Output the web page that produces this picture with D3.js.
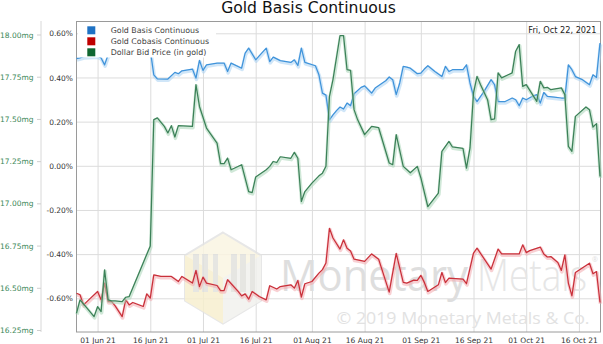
<!DOCTYPE html>
<html>
<head>
<meta charset="utf-8">
<script src="https://cdn.jsdelivr.net/npm/d3@7"></script>
<style>
  body { margin: 0; background: #fff; }
  svg { display: block; }
  text { font-family: "DejaVu Sans", sans-serif; }
</style>
</head>
<body>
<svg id="chart" width="603" height="344"></svg>
<script>
// ---- data -------------------------------------------------------------
const basisDates = ["2021-05-26","2021-05-27","2021-05-28","2021-06-01","2021-06-02","2021-06-03","2021-06-04","2021-06-07","2021-06-09","2021-06-11","2021-06-14","2021-06-16","2021-06-17","2021-06-18","2021-06-21","2021-06-23","2021-06-24","2021-06-25","2021-06-28","2021-06-29","2021-06-30","2021-07-01","2021-07-02","2021-07-05","2021-07-07","2021-07-08","2021-07-09","2021-07-12","2021-07-13","2021-07-14","2021-07-16","2021-07-17","2021-07-19","2021-07-20","2021-07-21","2021-07-23","2021-07-26","2021-07-27","2021-07-28","2021-07-29","2021-07-30","2021-08-02","2021-08-03","2021-08-04","2021-08-05","2021-08-06","2021-08-07","2021-08-08","2021-08-09","2021-08-10","2021-08-11","2021-08-12","2021-08-13","2021-08-15","2021-08-16","2021-08-18","2021-08-19","2021-08-22","2021-08-23","2021-08-24","2021-08-25","2021-08-26","2021-08-27","2021-08-28","2021-08-29","2021-08-31","2021-09-01","2021-09-02","2021-09-03","2021-09-05","2021-09-07","2021-09-08","2021-09-09","2021-09-10","2021-09-13","2021-09-14","2021-09-15","2021-09-16","2021-09-17","2021-09-19","2021-09-21","2021-09-22","2021-09-23","2021-09-25","2021-09-27","2021-09-28","2021-09-29","2021-09-30","2021-10-01","2021-10-03","2021-10-04","2021-10-05","2021-10-06","2021-10-07","2021-10-09","2021-10-11","2021-10-12","2021-10-13","2021-10-14","2021-10-15","2021-10-17","2021-10-19","2021-10-20","2021-10-21","2021-10-22"];
const basisValues = [0.485,0.489,0.494,0.498,0.488,0.457,0.503,0.51,0.52,0.51,0.52,0.525,0.412,0.394,0.393,0.423,0.417,0.430,0.438,0.397,0.477,0.432,0.457,0.465,0.465,0.427,0.465,0.442,0.510,0.533,0.480,0.498,0.533,0.472,0.492,0.476,0.468,0.480,0.454,0.533,0.468,0.453,0.412,0.329,0.320,0.208,0.231,0.250,0.266,0.257,0.284,0.272,0.326,0.355,0.362,0.329,0.352,0.385,0.402,0.390,0.322,0.375,0.450,0.447,0.442,0.417,0.420,0.438,0.453,0.427,0.404,0.450,0.427,0.435,0.435,0.457,0.375,0.314,0.291,0.337,0.390,0.367,0.291,0.291,0.307,0.299,0.272,0.307,0.299,0.317,0.322,0.284,0.332,0.314,0.311,0.307,0.307,0.457,0.435,0.404,0.390,0.367,0.412,0.400,0.556];

const cobasisDates = ["2021-05-26","2021-05-27","2021-05-28","2021-05-30","2021-06-01","2021-06-02","2021-06-03","2021-06-04","2021-06-05","2021-06-06","2021-06-08","2021-06-09","2021-06-10","2021-06-11","2021-06-14","2021-06-15","2021-06-16","2021-06-17","2021-06-19","2021-06-22","2021-06-24","2021-06-25","2021-06-28","2021-06-29","2021-06-30","2021-07-01","2021-07-02","2021-07-05","2021-07-06","2021-07-07","2021-07-08","2021-07-11","2021-07-12","2021-07-13","2021-07-14","2021-07-15","2021-07-17","2021-07-19","2021-07-20","2021-07-22","2021-07-23","2021-07-26","2021-07-27","2021-07-28","2021-07-29","2021-07-30","2021-08-01","2021-08-03","2021-08-04","2021-08-05","2021-08-06","2021-08-07","2021-08-09","2021-08-10","2021-08-11","2021-08-12","2021-08-13","2021-08-15","2021-08-16","2021-08-18","2021-08-20","2021-08-23","2021-08-25","2021-08-27","2021-08-28","2021-08-30","2021-08-31","2021-09-01","2021-09-02","2021-09-03","2021-09-06","2021-09-07","2021-09-08","2021-09-09","2021-09-13","2021-09-14","2021-09-16","2021-09-17","2021-09-21","2021-09-23","2021-09-24","2021-09-29","2021-09-30","2021-10-01","2021-10-02","2021-10-05","2021-10-06","2021-10-07","2021-10-08","2021-10-10","2021-10-11","2021-10-12","2021-10-13","2021-10-14","2021-10-15","2021-10-19","2021-10-20","2021-10-21","2021-10-22"];
const cobasisValues = [-0.577,-0.584,-0.630,-0.599,-0.569,-0.607,-0.531,-0.615,-0.615,-0.634,-0.683,-0.607,-0.630,-0.619,-0.637,-0.580,-0.599,-0.494,-0.501,-0.501,-0.524,-0.501,-0.531,-0.474,-0.547,-0.504,-0.531,-0.542,-0.565,-0.565,-0.516,-0.569,-0.589,-0.580,-0.604,-0.569,-0.592,-0.607,-0.543,-0.558,-0.547,-0.539,-0.554,-0.519,-0.595,-0.534,-0.524,-0.486,-0.470,-0.440,-0.283,-0.327,-0.377,-0.335,-0.373,-0.386,-0.423,-0.429,-0.433,-0.399,-0.423,-0.572,-0.397,-0.528,-0.531,-0.518,-0.519,-0.496,-0.528,-0.569,-0.539,-0.483,-0.529,-0.509,-0.513,-0.534,-0.395,-0.373,-0.468,-0.377,-0.399,-0.399,-0.358,-0.393,-0.384,-0.368,-0.399,-0.413,-0.411,-0.438,-0.474,-0.403,-0.531,-0.589,-0.483,-0.441,-0.489,-0.479,-0.619];

const dollarDates = ["2021-05-26","2021-05-27","2021-05-29","2021-05-31","2021-06-01","2021-06-02","2021-06-03","2021-06-04","2021-06-05","2021-06-06","2021-06-08","2021-06-09","2021-06-10","2021-06-16","2021-06-17","2021-06-18","2021-06-20","2021-06-21","2021-06-22","2021-06-23","2021-06-24","2021-06-28","2021-06-29","2021-06-30","2021-07-02","2021-07-05","2021-07-06","2021-07-07","2021-07-08","2021-07-09","2021-07-12","2021-07-14","2021-07-15","2021-07-16","2021-07-19","2021-07-20","2021-07-21","2021-07-22","2021-07-23","2021-07-26","2021-07-27","2021-07-28","2021-07-29","2021-07-30","2021-08-01","2021-08-03","2021-08-04","2021-08-05","2021-08-06","2021-08-07","2021-08-09","2021-08-10","2021-08-11","2021-08-12","2021-08-13","2021-08-14","2021-08-16","2021-08-18","2021-08-20","2021-08-23","2021-08-24","2021-08-25","2021-08-27","2021-08-29","2021-08-31","2021-09-01","2021-09-03","2021-09-06","2021-09-07","2021-09-09","2021-09-10","2021-09-13","2021-09-14","2021-09-15","2021-09-16","2021-09-17","2021-09-18","2021-09-20","2021-09-21","2021-09-22","2021-09-23","2021-09-24","2021-09-27","2021-09-28","2021-09-29","2021-09-30","2021-10-01","2021-10-04","2021-10-05","2021-10-06","2021-10-07","2021-10-08","2021-10-11","2021-10-12","2021-10-13","2021-10-14","2021-10-15","2021-10-18","2021-10-19","2021-10-20","2021-10-21","2021-10-22"];
const dollarValues = [16.349,16.428,16.379,16.329,16.388,16.359,16.606,16.428,16.422,16.422,16.418,16.444,16.448,16.748,17.496,17.506,17.456,17.417,17.460,17.393,17.460,17.456,17.703,17.574,17.446,17.357,17.235,17.235,17.268,17.199,17.229,17.070,17.064,17.156,17.199,17.219,17.248,17.242,17.276,17.267,17.302,17.267,17.011,17.070,17.120,17.163,17.179,17.220,17.634,17.733,17.994,17.994,17.792,17.788,17.555,17.496,17.407,17.456,17.448,17.239,17.229,17.407,17.219,17.181,17.219,17.152,16.980,17.061,17.308,17.367,17.334,17.325,17.209,17.328,17.654,17.752,17.703,17.614,17.496,17.500,17.773,17.743,17.773,17.901,17.940,17.693,17.703,17.604,17.723,17.684,17.687,17.673,17.684,17.644,17.337,17.308,17.515,17.571,17.555,17.452,17.472,17.159];

const seriesNames = ["Gold Basis Continuous", "Gold Cobasis Continuous", "Dollar Bid Price (in gold)"];
const pctTicks = [0.6, 0.4, 0.2, 0, -0.2, -0.4, -0.6];
const mgTicks = [18.0, 17.75, 17.5, 17.25, 17.0, 16.75, 16.5, 16.25];
const dateTicks = ["2021-06-01","2021-06-16","2021-07-01","2021-07-16","2021-08-01","2021-08-16","2021-09-01","2021-09-16","2021-10-01","2021-10-16"];
const dateRange = ["2021-05-26", "2021-10-22"];

// ---- layout -------------------------------------------------------------
const plot = { left: 76.5, right: 600.5, top: 21, bottom: 332 };
const parse = d3.timeParse("%Y-%m-%d");
const svg = d3.select("#chart");

const x = d3.scaleTime()
  .domain(dateRange.map(parse))
  .range([plot.left, plot.right - 0.5]);
const yPct = d3.scaleLinear().domain([-0.6, 0.6]).range([298.3, 33.3]);
const yMg = d3.scaleLinear().domain([16.25, 18.0]).range([330, 34.5]);

// title
svg.append("text")
  .attr("x", 308.5).attr("y", 12.5)
  .attr("text-anchor", "middle")
  .style("font-size", "15.6px")
  .attr("fill", "#111")
  .text("Gold Basis Continuous");

// grid lines
const gridY = svg.append("g")
  .attr("transform", `translate(${plot.left},0)`)
  .call(d3.axisLeft(yPct).tickValues(pctTicks).tickSize(-(plot.right - plot.left)).tickFormat(""));
gridY.select(".domain").remove();
gridY.selectAll("line").attr("stroke", "#dcdcdc").attr("stroke-width", 1);

const gridX = svg.append("g")
  .attr("transform", `translate(0,${plot.bottom})`)
  .call(d3.axisBottom(x).tickValues(dateTicks.map(parse)).tickSize(-(plot.bottom - plot.top)).tickFormat(""));
gridX.select(".domain").remove();
gridX.selectAll("line").attr("stroke", "#dcdcdc").attr("stroke-width", 1);

// watermark: logo hexagon
const wm = svg.append("g").attr("opacity", 0.85);
const hc = { x: 223, y: 278, w: 38, h: 45.5 };
const hex = [[hc.x, hc.y - hc.h], [hc.x + hc.w, hc.y - hc.h / 2], [hc.x + hc.w, hc.y + hc.h / 2],
             [hc.x, hc.y + hc.h], [hc.x - hc.w, hc.y + hc.h / 2], [hc.x - hc.w, hc.y - hc.h / 2]];
wm.append("polygon").attr("points", hex.map(p => p.join(",")).join(" "))
  .attr("fill", "#faf5e2").attr("stroke", "#e3e3e3").attr("stroke-width", 2);
wm.append("polygon")
  .attr("points", [[hc.x - hc.w, hc.y - hc.h / 2], [hc.x, hc.y], [hc.x, hc.y + hc.h], [hc.x - hc.w, hc.y + hc.h / 2]].map(p => p.join(",")).join(" "))
  .attr("fill", "#f7efcf");
wm.append("polygon")
  .attr("points", [[hc.x + hc.w, hc.y - hc.h / 2], [hc.x, hc.y], [hc.x, hc.y + hc.h], [hc.x + hc.w, hc.y + hc.h / 2]].map(p => p.join(",")).join(" "))
  .attr("fill", "#f1f1ee");
[[-30, 6], [-21, 6], [-10, 5], [8, 6], [17, 6], [27, 5]].forEach(([dx, w]) => {
  wm.append("rect").attr("x", hc.x + dx).attr("y", hc.y - 24).attr("width", w).attr("height", 38)
    .attr("fill", "#e2e2de");
});

// watermark: name and copyright
svg.append("text").attr("x", 280).attr("y", 290.5)
  .attr("textLength", 188).attr("lengthAdjust", "spacingAndGlyphs")
  .style("font-family", "'Open Sans', sans-serif").style("font-size", "44px")
  .attr("fill", "#dedede").text("Monetary");
svg.append("text").attr("x", 477).attr("y", 290.5)
  .attr("textLength", 110).attr("lengthAdjust", "spacingAndGlyphs")
  .style("font-family", "'Open Sans', sans-serif").style("font-size", "44px").style("font-weight", 300)
  .attr("fill", "#e6e6e6").text("Metals");
svg.append("text").attr("x", 592).attr("y", 262)
  .style("font-family", "'Open Sans', sans-serif").style("font-size", "7px")
  .attr("fill", "#e0e0e0").text("®");
svg.append("text").attr("x", 336.5).attr("y", 323.5)
  .attr("textLength", 253).attr("lengthAdjust", "spacingAndGlyphs")
  .style("font-family", "'Open Sans', sans-serif").style("font-size", "16.5px")
  .attr("fill", "#e2e2e2").text("\u00a9 2019 Monetary Metals & Co.");

// plot frame
svg.append("rect")
  .attr("x", plot.left).attr("y", plot.top + 0.5)
  .attr("width", plot.right - plot.left).attr("height", plot.bottom - plot.top - 0.5)
  .attr("fill", "none").attr("stroke", "#9a9a9a").attr("stroke-width", 1);

// series
const series = [
  { dates: basisDates, values: basisValues, y: yPct, color: "#3f93da", glow: "#a9d2f2", key: "#1f72c4" },
  { dates: cobasisDates, values: cobasisValues, y: yPct, color: "#c9303a", glow: "#f2a9ae", key: "#c00000" },
  { dates: dollarDates, values: dollarValues, y: yMg, color: "#3c8158", glow: "#a9d6b8", key: "#0f6630" }
];
const seriesG = svg.append("g");
series.forEach(s => {
  const pts = s.dates.map((d, i) => [parse(d), s.values[i]]);
  const line = d3.line().x(p => x(p[0])).y(p => s.y(p[1]));
  seriesG.append("path").attr("d", line(pts))
    .attr("fill", "none").attr("stroke", s.glow).attr("stroke-width", 3.6)
    .attr("stroke-opacity", 0.55).attr("stroke-linejoin", "round")
    .attr("transform", "translate(0.5,1.3)");
  seriesG.append("path").attr("d", line(pts))
    .attr("fill", "none").attr("stroke", s.color).attr("stroke-width", 1.25)
    .attr("stroke-linejoin", "round");
});

// percentage axis
const axPct = svg.append("g")
  .attr("transform", "translate(73,0)")
  .call(d3.axisLeft(yPct).tickValues(pctTicks).tickSize(0).tickPadding(0)
    .tickFormat(d => d.toFixed(2) + "%"));
axPct.select(".domain").remove();
axPct.selectAll("text").style("font-size", "7.5px").attr("fill", "#333")
  .style("font-family", "'DejaVu Sans', sans-serif").attr("dy", "0.34em");

// milligram axis
const axMg = svg.append("g")
  .attr("transform", "translate(41,0)")
  .call(d3.axisLeft(yMg).tickValues(mgTicks).tickSize(4).tickPadding(3.5)
    .tickFormat(d => d.toFixed(2) + "mg"));
axMg.select(".domain").attr("d", `M0,${plot.top}V${plot.bottom}`).attr("stroke", "#d8d8d8");
axMg.selectAll("line").attr("stroke", "#cfcfcf");
axMg.selectAll("text").style("font-size", "7.5px").attr("fill", "#3a8757")
  .style("font-family", "'DejaVu Sans', sans-serif").attr("dy", "0.34em");

// date axis
const axX = svg.append("g")
  .attr("transform", `translate(0,${plot.bottom})`)
  .call(d3.axisBottom(x).tickValues(dateTicks.map(parse)).tickSize(0)
    .tickFormat(d3.timeFormat("%d %b %y")));
axX.select(".domain").remove();
axX.selectAll("text").style("font-size", "7.5px").attr("fill", "#333")
  .style("font-family", "'DejaVu Sans', sans-serif").attr("y", 10.8).attr("dy", 0);

// legend
const legend = svg.append("g");
legend.append("rect").attr("x", 78).attr("y", 22).attr("width", 138).attr("height", 35.5)
  .attr("fill", "#fff");
series.forEach((s, i) => {
  const cy = 30.3 + i * 11;
  legend.append("rect").attr("x", 87.3).attr("y", cy - 4).attr("width", 8).attr("height", 8)
    .attr("fill", s.key);
  legend.append("text").attr("x", 110.7).attr("y", cy + 2.9)
    .style("font-size", "7.9px").attr("fill", "#444").text(seriesNames[i]);
});

// date stamp
svg.append("text").attr("x", 596.5).attr("y", 33)
  .attr("text-anchor", "end").style("font-size", "8.2px").attr("fill", "#222")
  .text(d3.timeFormat("%a, %b %d, %Y")(parse(dateRange[1])));
</script>
</body>
</html>
